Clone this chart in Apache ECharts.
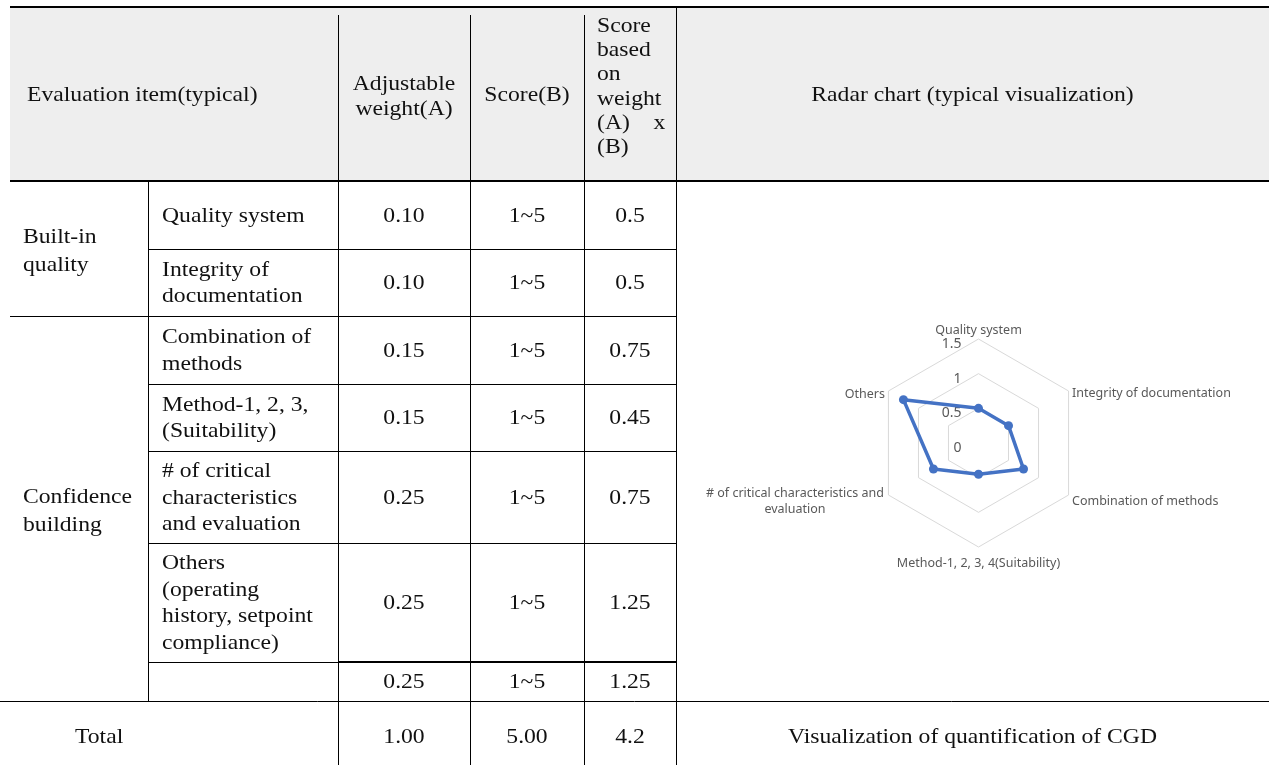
<!DOCTYPE html>
<html>
<head>
<meta charset="utf-8">
<script src="https://cdn.jsdelivr.net/npm/echarts@6/dist/echarts.min.js"></script>
<style>
html,body{margin:0;padding:0;background:#fff;}
#c{width:1269px;height:765px;}
</style>
</head>
<body>
<div id="c"></div>
<script>
// ---------- data ----------
const headerItem = 'Evaluation item(typical)';
const headerWeight = 'Adjustable\nweight(A)';
const headerScore = 'Score(B)';
const headerWeighted = 'Score\nbased\non\nweight\n(A)    x\n(B)';
const headerRadar = 'Radar chart (typical visualization)';
const groups = ['Built-in\nquality', 'Confidence\nbuilding'];
const items = ['Quality system', 'Integrity of\ndocumentation', 'Combination of\nmethods',
  'Method-1, 2, 3,\n(Suitability)', '# of critical\ncharacteristics\nand evaluation',
  'Others\n(operating\nhistory, setpoint\ncompliance)', ''];
const weights = ['0.10', '0.10', '0.15', '0.15', '0.25', '0.25', '0.25'];
const scores = ['1~5', '1~5', '1~5', '1~5', '1~5', '1~5', '1~5'];
const weighted = ['0.5', '0.5', '0.75', '0.45', '0.75', '1.25', '1.25'];
const totalLabel = 'Total';
const totals = ['1.00', '5.00', '4.2'];
const footNote = 'Visualization of quantification of CGD';
const radarAxes = ['Quality system', 'Integrity of documentation', 'Combination of methods',
  'Method-1, 2, 3, 4(Suitability)', '# of critical characteristics and\nevaluation', 'Others'];
const radarValues = [0.5, 0.5, 0.75, 0.45, 0.75, 1.25];
const radarMin = 0, radarMax = 1.5, radarSplits = 3;

// ---------- layout ----------
const XL = 10, C1 = 148, C2 = 338, C3 = 470, C4 = 584, C5 = 676, XR = 1269;
const YT = 7, YH = 181, YB = 765;
const rowY = [181, 249, 316, 384, 451, 543, 662, 701];
const SERIF = '"Liberation Serif", "Times New Roman", serif';
const FS = 21.5, SX = 1.1;

const g = [];
// header background
g.push({type: 'rect', shape: {x: XL, y: YT, width: XR - XL, height: YH - YT}, style: {fill: '#eeeeee'}, silent: true});
function hline(x1, x2, y, w) {
  const o = (w % 2 === 1) ? 0.5 : 0;
  g.push({type: 'line', shape: {x1: x1, y1: y + o, x2: x2, y2: y + o}, style: {stroke: '#000', lineWidth: w}, silent: true, z: 10});
}
function vline(x, y1, y2, w) {
  const o = (w % 2 === 1) ? 0.5 : 0;
  g.push({type: 'line', shape: {x1: x + o, y1: y1, x2: x + o, y2: y2}, style: {stroke: '#000', lineWidth: w}, silent: true, z: 10});
}
function txt(s, x, y, align, lh) {
  g.push({
    type: 'text', x: x, y: y, scaleX: SX, silent: true, z: 20,
    style: {
      text: s, fill: '#111', font: FS + 'px ' + SERIF,
      fontSize: FS, fontFamily: SERIF,
      align: align, verticalAlign: 'middle',
      textAlign: align, textVerticalAlign: 'middle',
      lineHeight: lh || 26.5
    }
  });
}
// horizontal rules
hline(XL, XR, YT, 2);
hline(XL, XR, YH, 2);
hline(C1, C5, rowY[1], 1);
hline(XL, C5, rowY[2], 1);
hline(C1, C5, rowY[3], 1);
hline(C1, C5, rowY[4], 1);
hline(C1, C5, rowY[5], 1);
hline(C1, C2, rowY[6], 1);
hline(C2, C5, rowY[6], 2);
hline(0, XR, rowY[7], 1);
// vertical rules
vline(C1, YH, rowY[7], 1);
[C2, C3, C4].forEach(function (x) { vline(x, 15, YH, 1); vline(x, YH, YB, 1); });
vline(C5, YT, YB, 1);

// header texts
txt(headerItem, 27, 95, 'left', 24.5);
txt(headerWeight, (C2 + C3) / 2, 97, 'center', 24.5);
txt(headerScore, (C3 + C4) / 2, 95, 'center', 24.5);
txt(headerWeighted, 597, 87, 'left', 24.3);
txt(headerRadar, (C5 + XR) / 2, 95, 'center', 24.5);
// group labels
txt(groups[0], 23, (rowY[0] + rowY[2]) / 2 + 3, 'left', 28);
txt(groups[1], 23, (rowY[2] + rowY[7]) / 2 + 3, 'left', 28);
// body rows
for (let i = 0; i < items.length; i++) {
  const cy = (rowY[i] + rowY[i + 1]) / 2 + 1;
  if (items[i]) txt(items[i], 162, cy, 'left');
  txt(weights[i], (C2 + C3) / 2, cy, 'center');
  txt(scores[i], (C3 + C4) / 2, cy, 'center');
  txt(weighted[i], (C4 + C5) / 2, cy, 'center');
}
// total row
const ty = 737;
txt(totalLabel, 75, ty, 'left');
txt(totals[0], (C2 + C3) / 2, ty, 'center');
txt(totals[1], (C3 + C4) / 2, ty, 'center');
txt(totals[2], (C4 + C5) / 2, ty, 'center');
txt(footNote, (C5 + XR) / 2, ty, 'center');

// ---------- radar ----------
// ECharts lays indicators counter-clockwise; reorder so they read clockwise like the reference
const order = [0, 5, 4, 3, 2, 1];
const SANS = '"Noto Sans", "Open Sans", sans-serif';
// per-axis name nudges (style only), indexed by original axis order
const namePad = [
  [0, 0, -5, 0],   // Quality system (top)
  [0, 0, -8, 0],   // Integrity (upper right)
  [9, 0, 0, 0],    // Combination (lower right)
  [4, 0, 0, 0],    // Method (bottom)
  [9, 0, 0, 0],    // # of critical (lower left)
  [0, 0, -10, 0]   // Others (upper left)
];
const indicators = order.map(function (i, k) {
  return {
    name: radarAxes[i], min: radarMin, max: radarMax,
    nameTextStyle: {padding: namePad[i]},
    axisLabel: k === 0
      ? {show: true, color: '#595959', fontSize: 14, fontFamily: SANS, margin: 17,
         verticalAlign: 'top', lineHeight: 10, showMinLabel: true, showMaxLabel: true}
      : {show: false}
  };
});

const chart = echarts.init(document.getElementById('c'), null, {renderer: 'canvas'});
chart.setOption({
  backgroundColor: '#ffffff',
  animation: false,
  graphic: g,
  radar: {
    center: [978.5, 443],
    radius: 104,
    startAngle: 90,
    splitNumber: radarSplits,
    shape: 'polygon',
    nameGap: 4,
    axisName: {
      color: '#595959', fontSize: 12.5, fontFamily: SANS, lineHeight: 16,
      formatter: function (v) {
        return v.indexOf('\n') >= 0 ? v.split('\n').map(function (s) { return '{c|' + s + '}'; }).join('\n') : v;
      },
      rich: {c: {width: 180, align: 'center', color: '#595959', fontSize: 12.5, fontFamily: SANS, lineHeight: 16}}
    },
    axisLine: {show: false},
    axisTick: {show: false},
    splitLine: {lineStyle: {color: '#d9d9d9', width: 1}},
    splitArea: {show: false},
    indicator: indicators
  },
  series: [{
    type: 'radar',
    symbol: 'circle',
    symbolSize: 9,
    lineStyle: {color: '#4472C4', width: 3.5},
    itemStyle: {color: '#4472C4'},
    data: [{value: order.map(function (i) { return radarValues[i]; }), name: 'Score'}]
  }]
});
</script>
</body>
</html>
